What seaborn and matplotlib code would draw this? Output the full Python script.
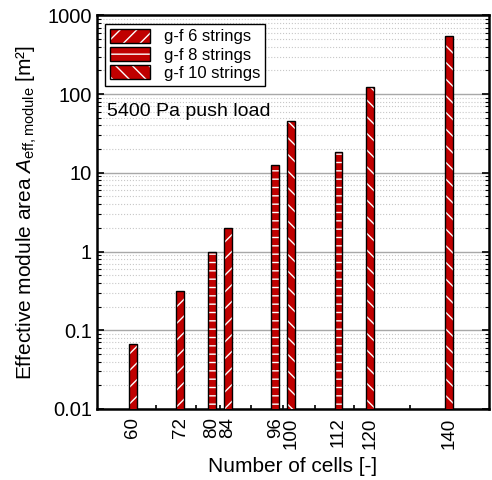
import pandas as pd
import seaborn as sns
import matplotlib.pyplot as plt
from matplotlib.ticker import FixedLocator, LogLocator, NullFormatter, FuncFormatter

# =============================
# Data
# =============================
cells = [60, 72, 84, 80, 96, 112, 100, 120, 140]
area = [0.067, 0.317, 1.98, 0.98, 12.4, 18.2, 46.0, 122.0, 542.0]
series = ["g-f 6 strings"] * 3 + ["g-f 8 strings"] * 3 + ["g-f 10 strings"] * 3
series_order = ["g-f 6 strings", "g-f 8 strings", "g-f 10 strings"]
hatches = ["//", "--", "\\\\"]
tick_cells = [60, 72, 80, 84, 96, 100, 112, 120, 140]
minor_cells = [66, 76, 82, 90, 98, 106, 116, 130]

df = pd.DataFrame({"cells": cells, "area": area, "series": series})

# =============================
# Style
# =============================
sns.set_style("ticks")
plt.rcParams["font.family"] = ["Liberation Sans", "DejaVu Sans"]
plt.rcParams["mathtext.fontset"] = "custom"
plt.rcParams["mathtext.rm"] = "Liberation Sans"
plt.rcParams["mathtext.it"] = "Liberation Sans:italic"
plt.rcParams["hatch.linewidth"] = 1.0
for k in ["text.color", "axes.labelcolor", "xtick.color", "ytick.color"]:
    plt.rcParams[k] = "black"

fig = plt.figure(figsize=(4.92, 4.8), dpi=100)
ax = fig.add_axes([0.197, 0.148, 0.797, 0.820])

red = "#c00000"
sns.barplot(data=df, x="cells", y="area", hue="series", hue_order=series_order,
            palette=[red] * 3, native_scale=True, dodge=False, width=0.5,
            edgecolor="black", linewidth=1.0, saturation=1, legend=False,
            ax=ax, zorder=3)
ax.set_yscale("log")

# hatches in white
for cont, h in zip(ax.containers, hatches):
    for bar in cont.patches:
        bar.set_hatch(h)
        if hasattr(bar, "set_hatchcolor"):
            bar.set_hatchcolor("white")
        else:
            bar._hatch_color = (1, 1, 1, 1)

# =============================
# Axes
# =============================
ax.set_xlim(51, 150)
ax.set_ylim(0.01, 1000)
ax.xaxis.set_major_locator(FixedLocator(tick_cells))
ax.xaxis.set_minor_locator(FixedLocator(minor_cells))
ax.set_xticklabels([str(c) for c in tick_cells], rotation=90)
ax.yaxis.set_major_locator(LogLocator(base=10, numticks=10))
ax.yaxis.set_minor_locator(LogLocator(base=10, subs=range(2, 10), numticks=20))
ax.yaxis.set_major_formatter(FuncFormatter(lambda v, p: f"{v:g}"))
ax.yaxis.set_minor_formatter(NullFormatter())

ax.tick_params(axis="y", which="both", direction="in", labelsize=14.5)
ax.tick_params(axis="x", which="both", direction="in", labelsize=13.5)
ax.tick_params(axis="y", which="major", length=5, width=1.2, right=True)
ax.tick_params(axis="y", which="minor", length=3, width=0.8, right=True)
ax.tick_params(axis="x", which="major", length=5, width=1.2, top=False, pad=6)
ax.tick_params(axis="x", which="minor", length=3, width=1.2, top=False)

ax.grid(axis="y", which="major", color="#a8a8a8", linewidth=1.0, linestyle="-", zorder=0)
ax.grid(axis="y", which="minor", color="#c8c8c8", linewidth=0.8, linestyle=":", zorder=0)
ax.grid(axis="x", which="both", visible=False)
ax.set_axisbelow(True)

for s in ax.spines.values():
    s.set_visible(True)
    s.set_linewidth(1.8)
    s.set_color("black")

ax.set_xlabel("Number of cells [-]", fontsize=15, labelpad=6)
ax.set_ylabel(r"Effective module area $\mathit{A}_{\mathrm{eff,module}}$ [m²]", fontsize=15, labelpad=6)

ax.text(0.026, 0.755, "5400 Pa push load", transform=ax.transAxes,
        fontsize=14, ha="left", va="center")

handles = [c.patches[0] for c in ax.containers]
leg = ax.legend(handles, series_order, loc="upper left", fontsize=12,
                frameon=True, fancybox=False, edgecolor="black", framealpha=1,
                handlelength=2.4, handleheight=0.9, borderpad=0.3,
                labelspacing=0.15, handletextpad=0.8, borderaxespad=0.5)
leg.get_frame().set_linewidth(1.0)

fig.savefig("out.png", dpi=100)
